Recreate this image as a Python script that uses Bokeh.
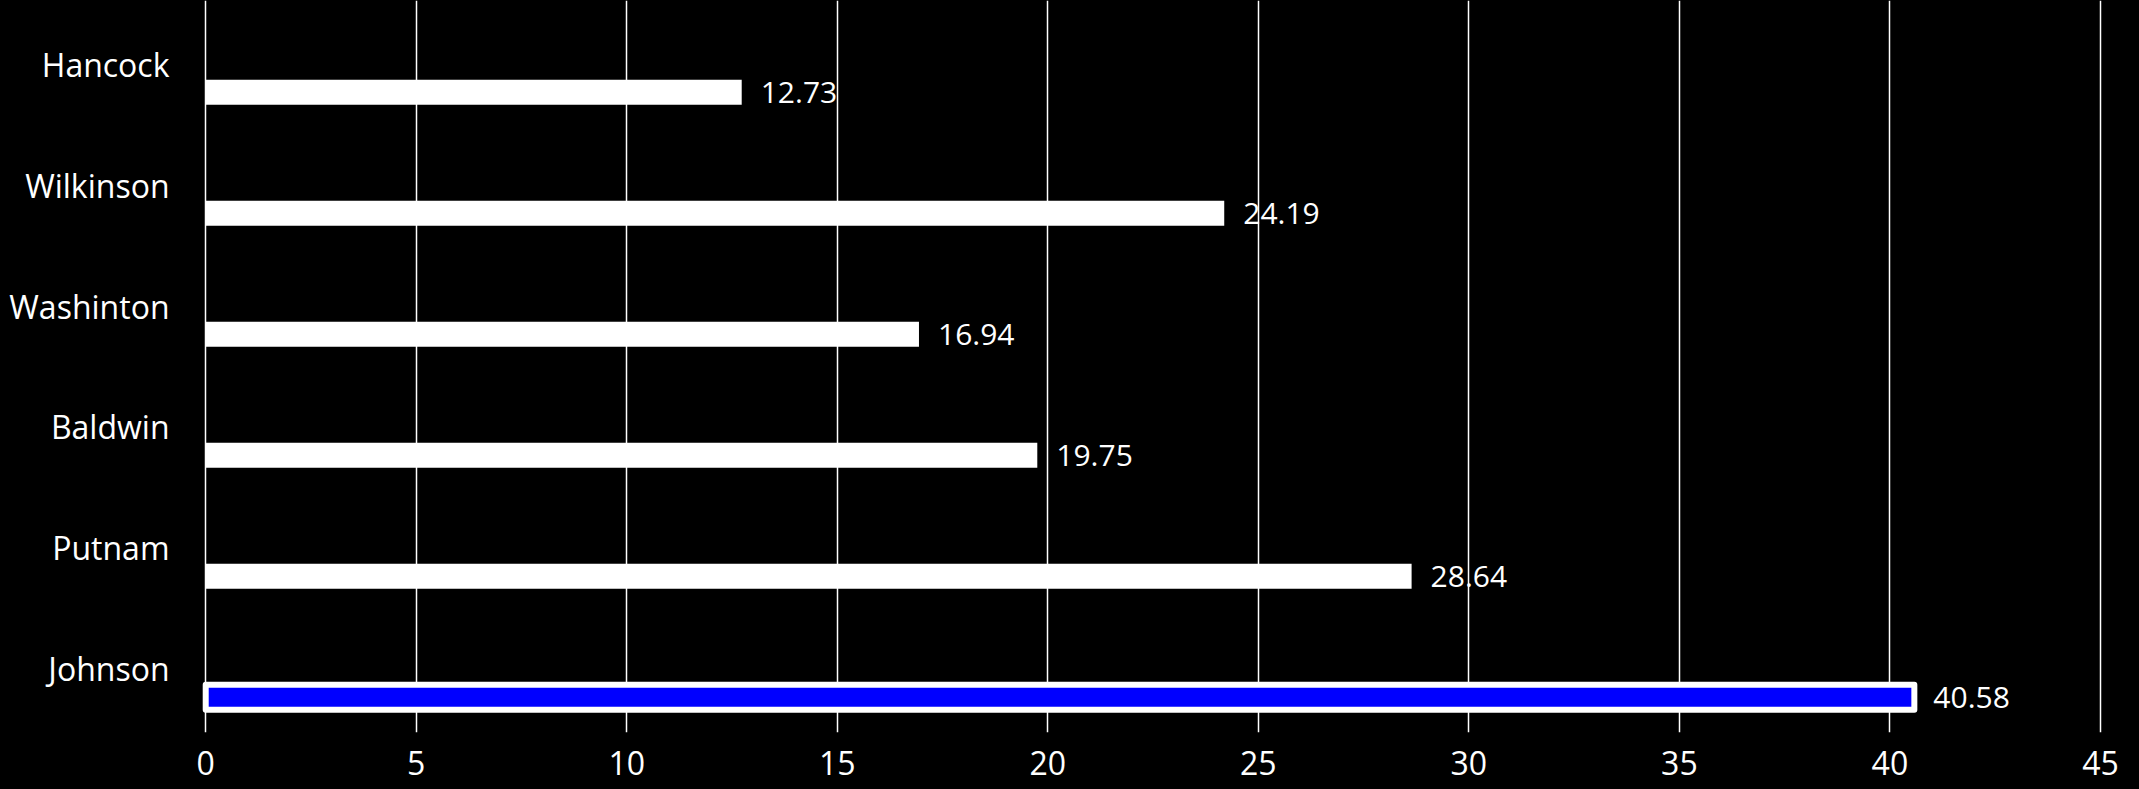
from bokeh.plotting import figure
from bokeh.models import FactorRange, Range1d, FixedTicker, ColumnDataSource
from bokeh.transform import dodge
from bokeh.core.properties import value
from bokeh.embed import file_html
from bokeh.resources import INLINE

categories = ["Hancock", "Wilkinson", "Washinton", "Baldwin", "Putnam", "Johnson"]
values = [12.73, 24.19, 16.94, 19.75, 28.64, 40.58]
fill_colors = ["#FFFFFF", "#FFFFFF", "#FFFFFF", "#FFFFFF", "#FFFFFF", "#0000FF"]
outline_alpha = [0, 0, 0, 0, 0, 1]
x_ticks = [0, 5, 10, 15, 20, 25, 30, 35, 40, 45]
labels = [f"{v:.2f}" for v in values]

FONT = "Open Sans"

src = ColumnDataSource(dict(cat=categories, val=values, fill=fill_colors,
                            la=outline_alpha, lab=labels))

p = figure(width=2139, height=789, output_backend="svg", toolbar_location=None,
           y_range=FactorRange(factors=list(reversed(categories)), range_padding=0.0083),
           x_range=Range1d(-0.1, 45.5),
           min_border_left=201, min_border_right=18, min_border_top=0,
           min_border_bottom=57)

p.background_fill_color = "black"
p.border_fill_color = "black"
p.outline_line_color = None

p.hbar(y=dodge("cat", -0.233, range=p.y_range), left=0, right="val", height=0.207,
       fill_color="fill", line_color="white", line_alpha="la", line_width=6,
       line_join="round", source=src)

p.text(x="val", y=dodge("cat", -0.233, range=p.y_range), text="lab", source=src,
       x_offset=19, text_baseline="middle", text_align="left",
       text_color="white", text_font=value(FONT), text_font_size="30px")

p.xaxis.ticker = FixedTicker(ticks=x_ticks)
p.xgrid.ticker = FixedTicker(ticks=x_ticks)
p.xgrid.grid_line_color = "white"
p.xgrid.grid_line_width = 1.5
p.ygrid.grid_line_color = None

for ax in (p.xaxis, p.yaxis):
    ax.axis_line_color = None
    ax.major_tick_line_color = None
    ax.minor_tick_line_color = None
    ax.major_label_text_color = "white"
    ax.major_label_text_font = FONT
    ax.major_label_text_font_size = "32px"

p.xaxis.major_label_standoff = 12
p.yaxis.major_label_standoff = 26

html = file_html(p, INLINE)
html = html.replace("<head>", "<head><style>html,body{background:#000;}</style>", 1)
open("out.html", "w").write(html)
